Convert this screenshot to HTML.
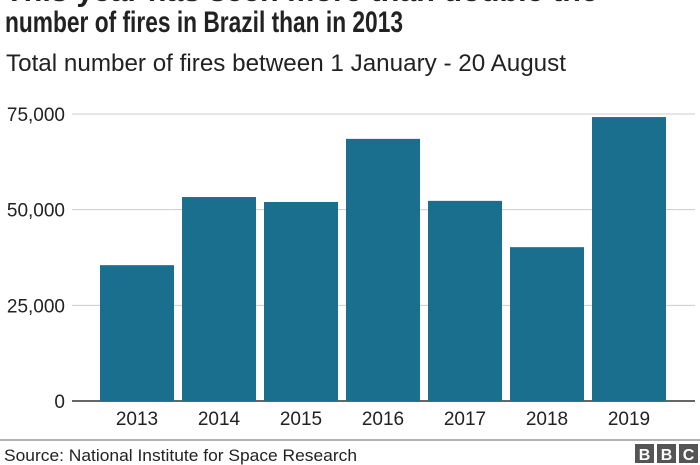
<!DOCTYPE html>
<html><head><meta charset="utf-8"><style>
body{margin:0;width:700px;height:465px;overflow:hidden;background:#fff;font-family:"Liberation Sans",Arial,sans-serif;}
svg{display:block}
</style></head><body>
<svg id="chart" width="700" height="465">
<text x="5" y="1" font-size="30" font-weight="bold" fill="#222" textLength="593" lengthAdjust="spacingAndGlyphs">This year has seen more than double the</text>
<text x="5" y="32" font-size="30" font-weight="bold" fill="#222" textLength="398" lengthAdjust="spacingAndGlyphs">number of fires in Brazil than in 2013</text>
<text x="6" y="71" font-size="24" fill="#222" textLength="560" lengthAdjust="spacingAndGlyphs">Total number of fires between 1 January - 20 August</text>
<g id="grid"></g><g id="bars"></g><g id="xlabels"></g>
<line x1="0" y1="440" x2="700" y2="440" stroke="#666" stroke-width="1"/>
<text x="4" y="461" font-size="17" fill="#222" textLength="353" lengthAdjust="spacingAndGlyphs">Source: National Institute for Space Research</text>
<g>
<rect x="635" y="444" width="19" height="19" fill="#555"/><rect x="657" y="444" width="19" height="19" fill="#555"/><rect x="679" y="444" width="19" height="19" fill="#555"/>
<text x="644.5" y="460" font-size="16" font-weight="bold" fill="#fff" text-anchor="middle">B</text>
<text x="666.5" y="460" font-size="16" font-weight="bold" fill="#fff" text-anchor="middle">B</text>
<text x="688.5" y="460" font-size="16" font-weight="bold" fill="#fff" text-anchor="middle">C</text>
</g>
</svg>
<script>
const years=["2013","2014","2015","2016","2017","2018","2019"];
const fires=[35500,53300,52000,68500,52300,40200,74200];
const yTicks=[0,25000,50000,75000];
const yTickLabels=["0","25,000","50,000","75,000"];
const NS="http://www.w3.org/2000/svg";
const y0=401,y75=114,yMax=75000,xStart=96,step=82,barW=74;
const y=v=>y0-(v/yMax)*(y0-y75);
const x=i=>xStart+i*step+4;
function mk(t,a,p){const e=document.createElementNS(NS,t);for(const k in a)e.setAttribute(k,a[k]);p.appendChild(e);return e;}
const grid=document.getElementById('grid');
yTicks.forEach((v,i)=>{
 const l=mk('line',{x1:72,x2:695,y1:y(v),y2:y(v),stroke:v===0?'#333':'#ccc','stroke-width':v===0?1.5:1},grid);
 
 
 const t=mk('text',{x:65,y:y(v)+7,'font-size':19,fill:'#222','text-anchor':'end'},grid);
 t.textContent=yTickLabels[i];
 
 
});
const bars=document.getElementById('bars'),xl=document.getElementById('xlabels');
years.forEach((yr,i)=>{
 const r=mk('rect',{x:x(i),y:y(fires[i]),width:barW,height:y0-y(fires[i]),fill:'#1a6e8e'},bars);
 
 
 const t=mk('text',{x:x(i)+barW/2,y:425,'font-size':19,fill:'#222','text-anchor':'middle'},xl);
 t.textContent=yr;
 
 
});
</script>
</body></html>
